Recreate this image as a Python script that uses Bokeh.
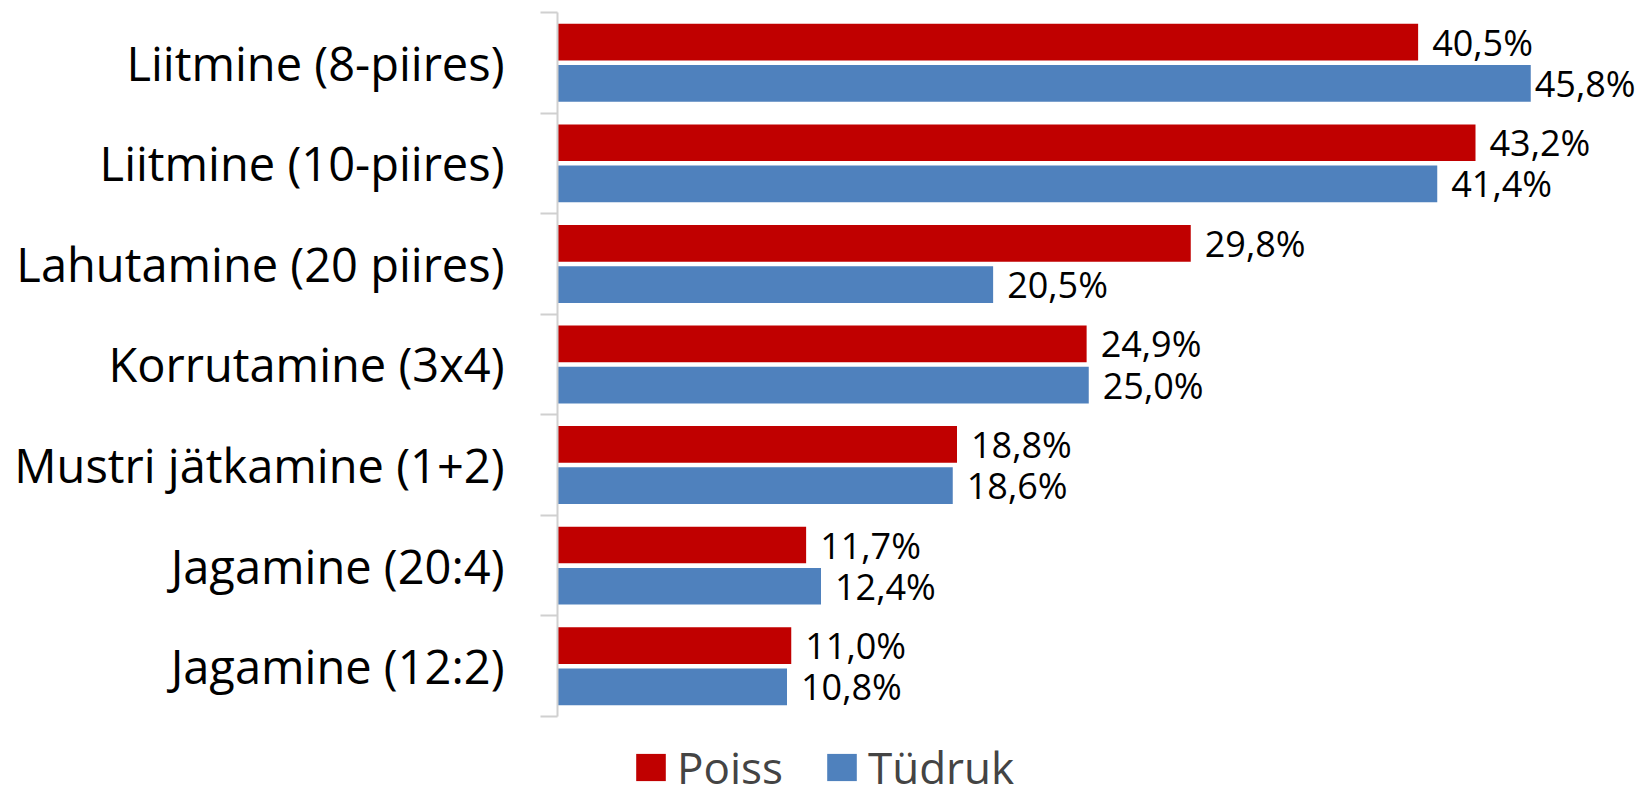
from bokeh.plotting import figure
from bokeh.models import Range1d, FixedTicker, ColumnDataSource, Legend, LegendItem
from bokeh.core.properties import value
from bokeh.embed import file_html
from bokeh.resources import INLINE

categories = ["Liitmine (8-piires)", "Liitmine (10-piires)", "Lahutamine (20 piires)",
              "Korrutamine (3x4)", "Mustri jätkamine (1+2)", "Jagamine (20:4)", "Jagamine (12:2)"]
poiss = [40.5, 43.2, 29.8, 24.9, 18.8, 11.7, 11.0]
tudruk = [45.8, 41.4, 20.5, 25.0, 18.6, 12.4, 10.8]
series_names = ["Poiss", "Tüdruk"]
colors = ["#C00000", "#4F81BD"]

FONT = "Open Sans"
n = len(categories)
centers = [n - 1 - i for i in range(n)]
W, H = 1640, 797
LEFT = 557
TOP = 12
px_per_unit = 21.25
frame_w = W - LEFT
x_end = frame_w / px_per_unit
cat_px = 100.57
frame_h = H - TOP
y_end = n - 0.5
y_start = y_end - frame_h / cat_px

p = figure(width=W, height=H, output_backend="svg", toolbar_location=None,
           x_range=Range1d(0, x_end), y_range=Range1d(y_start, y_end),
           min_border_left=LEFT, min_border_right=0, min_border_top=TOP, min_border_bottom=0)
p.outline_line_color = None
p.xgrid.visible = False
p.ygrid.visible = False
p.xaxis.visible = False
p.background_fill_color = "white"
p.border_fill_color = "white"

def fmt(v):
    return f"{v:.1f}".replace(".", ",") + "%"

LABEL_W = 102
GAP = 14
off = 0.205
bh = 0.365
renderers = []
for vals, name, col, d in zip([poiss, tudruk], series_names, colors, [off, -off]):
    offs = [4 if v * px_per_unit + GAP + LABEL_W > frame_w else GAP for v in vals]
    src = ColumnDataSource(dict(y=[c + d for c in centers], v=vals,
                                lab=[fmt(v) for v in vals], xo=offs))
    r = p.hbar(y="y", right="v", left=0, height=bh, source=src, fill_color=col, line_color=None)
    p.text(x="v", y="y", text="lab", source=src, x_offset="xo", text_align="left",
           text_baseline="middle", text_font=value(FONT), text_font_size="36px", text_color="black")
    renderers.append((name, r))

ax = p.yaxis[0]
ax.ticker = FixedTicker(ticks=centers, minor_ticks=[c - 0.5 for c in centers] + [n - 0.5])
ax.major_label_overrides = {c: cat for c, cat in zip(centers, categories)}
ax.bounds = (-0.5, n - 0.5)
ax.major_tick_out = 0
ax.major_tick_in = 0
ax.minor_tick_out = 17
ax.minor_tick_in = 0
ax.minor_tick_line_color = "#d0d0d0"
ax.minor_tick_line_width = 2
ax.axis_line_color = "#d0d0d0"
ax.axis_line_width = 2
ax.major_label_standoff = 36
ax.major_label_text_font = FONT
ax.major_label_text_font_size = "47px"
ax.major_label_text_color = "black"

legend = Legend(items=[LegendItem(label=nm, renderers=[r]) for nm, r in renderers],
                orientation="horizontal", location=(75, 0),
                label_text_font=FONT, label_text_font_size="44px",
                glyph_width=37, glyph_height=34, label_standoff=8, spacing=40,
                padding=0, margin=0, border_line_color=None, background_fill_alpha=0)
p.add_layout(legend, "center")

open("out.html", "w").write(file_html(p, INLINE))
